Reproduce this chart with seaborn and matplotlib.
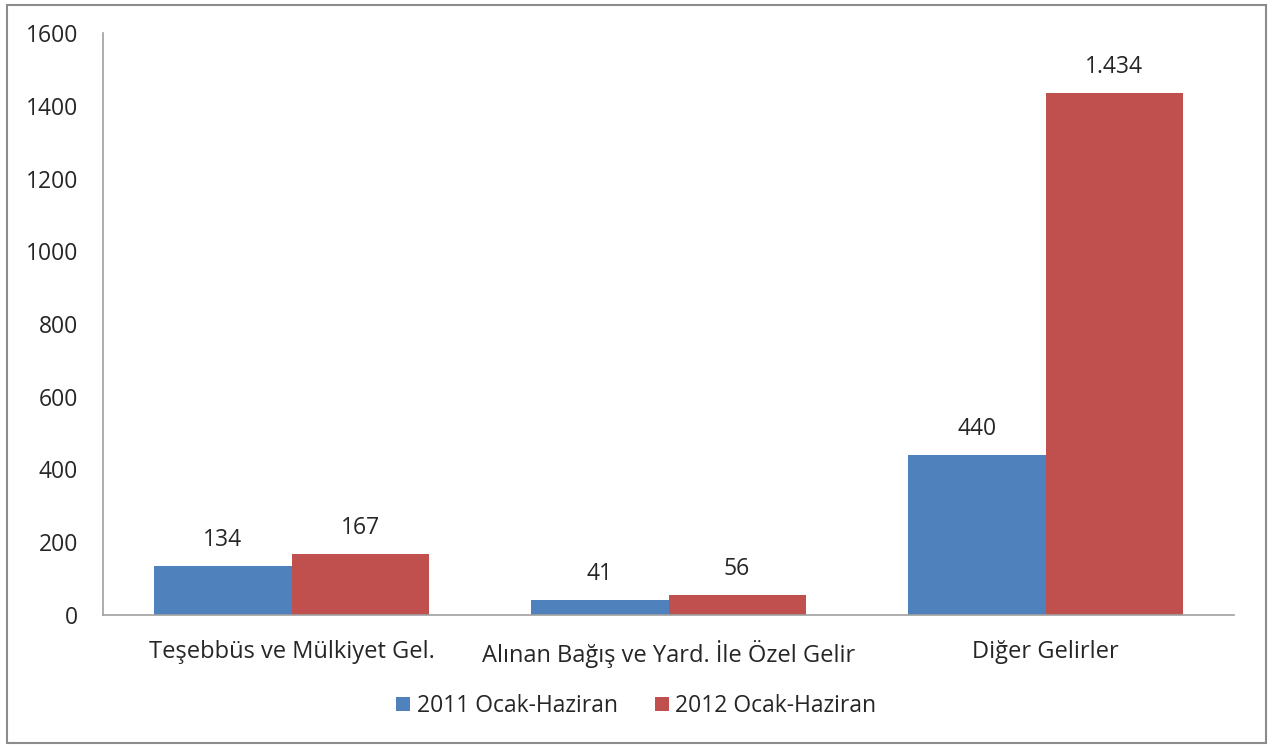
import pandas as pd
import matplotlib.pyplot as plt
import seaborn as sns
from matplotlib.patches import Rectangle

categories = ['Teşebbüs ve Mülkiyet Gel.', 'Alınan Bağış ve Yard. İle Özel Gelir', 'Diğer Gelirler']
series = ['2011 Ocak-Haziran', '2012 Ocak-Haziran']
values_2011 = [134, 41, 440]
values_2012 = [167, 56, 1434]
labels_2011 = ['134', '41', '440']
labels_2012 = ['167', '56', '1.434']
colors = ['#4F81BD', '#C0504D']

df = pd.DataFrame({
    'kategori': categories * 2,
    'donem': [series[0]] * 3 + [series[1]] * 3,
    'deger': values_2011 + values_2012,
})

sns.set_style('white')
plt.rcParams['font.family'] = ['Open Sans', 'DejaVu Sans']
FS = 16.5

fig = plt.figure(figsize=(12.73, 7.47), dpi=100)
ax = fig.add_axes([103 / 1273, 1 - 615 / 747, 1131 / 1273, 582 / 747])

sns.barplot(data=df, x='kategori', y='deger', hue='donem', palette=colors,
            width=0.727, saturation=1, linewidth=0, ax=ax, legend=True)

for cont, labs in zip(ax.containers, [labels_2011, labels_2012]):
    ax.bar_label(cont, labels=labs, padding=10, fontsize=FS)

ax.set_xlim(-0.5, 2.5)
ax.set_ylim(0, 1600)
ax.set_yticks(range(0, 1601, 200))
ax.set_xlabel('')
ax.set_ylabel('')
ax.tick_params(axis='y', labelsize=FS, pad=18, length=0)
ax.tick_params(axis='x', labelsize=17, pad=18, length=0)
for s in ['top', 'right']:
    ax.spines[s].set_visible(False)
for s in ['left', 'bottom']:
    ax.spines[s].set_color('#A0A0A0')
    ax.spines[s].set_linewidth(1.2)

ax.legend(loc='center', bbox_to_anchor=(0.5, 1 - 706 / 747), bbox_transform=fig.transFigure,
          ncol=2, frameon=False, fontsize=FS, handlelength=0.6, handleheight=0.6,
          handletextpad=0.3, columnspacing=1.6)

fig.patches.append(Rectangle((7 / 1273, 4 / 747), 1259 / 1273, 738 / 747,
                             transform=fig.transFigure, fill=False,
                             edgecolor='#8C8C8C', linewidth=1.5))

fig.savefig('out.png', dpi=100)
